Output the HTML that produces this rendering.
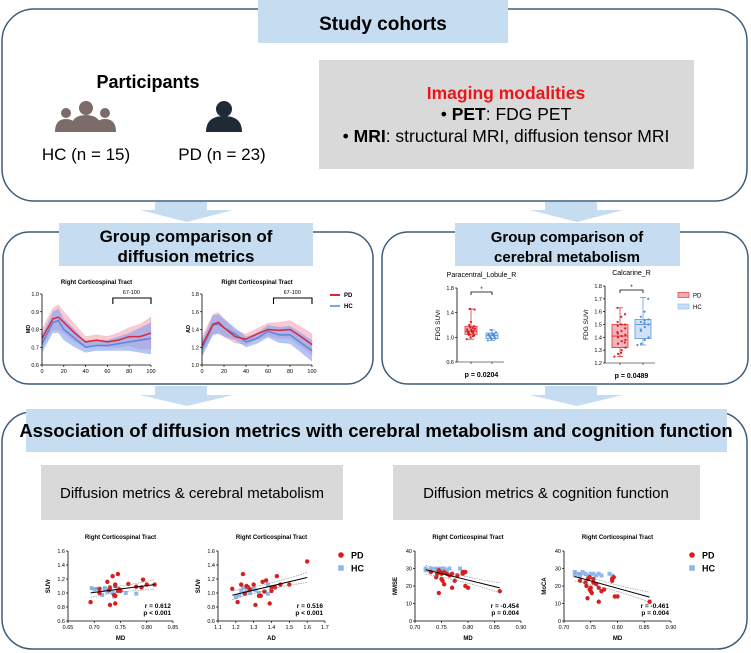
<!DOCTYPE html>
<html><head><meta charset="utf-8"><style>
body{margin:0;background:#fff;}
svg{display:block;font-family:"Liberation Sans",Arial,sans-serif;}
</style></head><body>
<svg id="s" width="751" height="653" viewBox="0 0 751 653">
<rect x="2" y="9" width="745" height="192" rx="32" fill="#fff" stroke="#3d5d78" stroke-width="1.5"/>
<rect x="258" y="0" width="250" height="43" fill="#c6dcf0"/>
<text x="383" y="30" text-anchor="middle" font-size="19" font-weight="bold">Study cohorts</text>
<text x="148" y="88" text-anchor="middle" font-size="18" font-weight="bold">Participants</text>
<g fill="#7b6c69">
<circle cx="66" cy="113" r="5"/><path d="M55 132 q0-13 11-13 q11 0 11 13z"/>
<circle cx="105" cy="113" r="5"/><path d="M94 132 q0-13 11-13 q11 0 11 13z"/>
<circle cx="86" cy="108" r="7"/><path d="M70 132 q0-17 16-17 q16 0 16 17z"/>
</g>
<g fill="#1f2a36">
<circle cx="224" cy="109" r="8"/><path d="M206 132 q0-16 18-16 q18 0 18 16z"/>
</g>
<text x="86" y="160" text-anchor="middle" font-size="17">HC (n = 15)</text>
<text x="222" y="160" text-anchor="middle" font-size="17">PD (n = 23)</text>
<rect x="319" y="60" width="375" height="109" fill="#d9d9d9"/>
<text x="506" y="99" text-anchor="middle" font-size="17.5" font-weight="bold" fill="#e8171b">Imaging modalities</text>
<text x="506" y="120" text-anchor="middle" font-size="17.5">•  <tspan font-weight="bold">PET</tspan>: FDG PET</text>
<text x="506" y="142" text-anchor="middle" font-size="17.5">•  <tspan font-weight="bold">MRI</tspan>: structural MRI, diffusion tensor MRI</text>
<g fill="#c6dcf0">
<path d="M155 202h52v8h26l-46 12l-47-12h15z"/>
<path d="M545 202h52v8h26l-46 12l-47-12h15z"/>
<path d="M155 386h52v9h26l-46 11l-47-11h15z"/>
<path d="M545 386h52v9h26l-46 11l-47-11h15z"/>
</g>
<rect x="3" y="232" width="370" height="152" rx="26" fill="#fff" stroke="#3d5d78" stroke-width="1.5"/>
<rect x="382" y="232" width="366" height="152" rx="26" fill="#fff" stroke="#3d5d78" stroke-width="1.5"/>
<rect x="59" y="223" width="254" height="43" fill="#c6dcf0"/>
<text x="186" y="242" text-anchor="middle" font-size="17" font-weight="bold">Group comparison of</text>
<text x="186" y="262" text-anchor="middle" font-size="17" font-weight="bold">diffusion metrics</text>
<rect x="455" y="223" width="225" height="43" fill="#c6dcf0"/>
<text x="567" y="242" text-anchor="middle" font-size="15" font-weight="bold">Group comparison of</text>
<text x="567" y="262" text-anchor="middle" font-size="15" font-weight="bold">cerebral metabolism</text>
<rect x="2" y="412" width="745" height="237" rx="30" fill="#fff" stroke="#3d5d78" stroke-width="1.5"/>
<rect x="26" y="409" width="701" height="43" fill="#c6dcf0"/>
<text x="376" y="437" text-anchor="middle" font-size="18.5" font-weight="bold">Association of diffusion metrics with cerebral metabolism and cognition function</text>
<rect x="41" y="465" width="302" height="55" fill="#d9d9d9"/>
<text x="192" y="498" text-anchor="middle" font-size="15">Diffusion metrics &amp; cerebral metabolism</text>
<rect x="393" y="465" width="307" height="55" fill="#d9d9d9"/>
<text x="546" y="498" text-anchor="middle" font-size="15">Diffusion metrics &amp; cognition function</text>
<g id="charts"></g>
</svg>
<script>
const profX=[0,10,15,20,30,40,50,60,70,80,90,100];
const mdPD=[0.75,0.86,0.87,0.84,0.78,0.73,0.74,0.73,0.74,0.76,0.76,0.78];
const mdHC=[0.72,0.84,0.85,0.80,0.75,0.70,0.71,0.71,0.72,0.73,0.74,0.75];
const mdBand=[0.05,0.06,0.07,0.06,0.05,0.03,0.03,0.03,0.04,0.05,0.07,0.09];
const adPD=[1.22,1.46,1.48,1.42,1.32,1.29,1.35,1.40,1.39,1.40,1.32,1.23];
const adHC=[1.18,1.45,1.46,1.42,1.35,1.26,1.30,1.38,1.34,1.34,1.25,1.16];
const adBand=[0.09,0.11,0.11,0.10,0.07,0.06,0.06,0.07,0.09,0.10,0.11,0.12];
const paraPD=[0.97,1.05,1.10,1.18,1.46];
const paraHC=[0.95,0.98,1.03,1.07,1.12];
const calcPD=[1.25,1.32,1.41,1.50,1.63];
const calcHC=[1.34,1.39,1.50,1.54,1.71];
const paraPDpts=[0.97,1.0,1.03,1.05,1.07,1.08,1.1,1.1,1.12,1.14,1.16,1.18,1.2,1.02,1.06,1.09,1.13,1.25,1.45,1.46,1.11,1.04,1.15];
const paraHCpts=[0.95,0.97,0.98,1.0,1.02,1.03,1.04,1.05,1.06,1.08,1.12,0.99,1.01,1.05,1.03];
const calcPDpts=[1.25,1.27,1.3,1.32,1.35,1.37,1.38,1.4,1.41,1.42,1.43,1.45,1.47,1.49,1.5,1.5,1.52,1.56,1.58,1.63,1.28,1.36,1.44];
const calcHCpts=[1.34,1.35,1.38,1.4,1.45,1.48,1.5,1.52,1.53,1.54,1.56,1.6,1.7,1.46,1.51];
const s1PDx=[0.693,0.71,0.71,0.725,0.73,0.73,0.735,0.74,0.74,0.745,0.745,0.74,0.74,0.75,0.765,0.78,0.79,0.793,0.8,0.815,0.728,0.738,0.748];
const s1PDy=[0.87,1.06,1.0,1.16,1.08,0.83,1.24,1.12,1.1,1.27,1.03,0.96,0.85,1.03,1.13,1.09,1.08,1.19,1.12,1.12,1.04,0.97,1.05];
const s1HCx=[0.695,0.705,0.71,0.715,0.72,0.725,0.73,0.735,0.738,0.745,0.76,0.78,0.72,0.735,0.7];
const s1HCy=[1.07,1.06,1.05,0.97,1.07,1.02,1.05,1.01,0.95,1.06,1.0,0.99,1.04,1.0,1.05];
const s2PDx=[1.18,1.21,1.23,1.24,1.26,1.27,1.28,1.3,1.31,1.33,1.34,1.35,1.36,1.37,1.39,1.4,1.4,1.42,1.43,1.45,1.5,1.6,1.25];
const s2PDy=[1.06,0.87,1.12,1.27,1.1,1.08,1.05,1.12,0.83,0.96,0.96,1.16,1.02,1.18,0.85,1.08,1.03,1.08,1.24,1.12,1.12,1.45,0.99];
const s2HCx=[1.2,1.2,1.23,1.24,1.25,1.28,1.3,1.33,1.33,1.38,1.38,1.27,1.22,1.26,1.31];
const s2HCy=[0.95,0.94,1.03,1.08,1.0,1.0,1.06,1.0,0.96,0.99,1.12,1.02,0.97,1.05,1.04];
const s3PDx=[0.73,0.74,0.745,0.745,0.75,0.75,0.752,0.755,0.755,0.76,0.77,0.77,0.775,0.78,0.79,0.79,0.795,0.795,0.8,0.86,0.748,0.742,0.765];
const s3PDy=[28,25,16,29,27,24,23,21,28,27,27,19,23,26,28,27,28,20,19,17,28,27,26];
const s3HCx=[0.72,0.725,0.73,0.735,0.74,0.745,0.75,0.755,0.76,0.765,0.785,0.72,0.74,0.75,0.73];
const s3HCy=[30,29,30,29,29,30,30,30,29,30,30,29,30,29,29];
const s4PDx=[0.73,0.74,0.742,0.744,0.745,0.748,0.75,0.75,0.752,0.755,0.755,0.765,0.765,0.77,0.775,0.79,0.79,0.793,0.795,0.8,0.86,0.748,0.76];
const s4PDy=[23,22,20,13,24,25,19,17,16,24,22,19,11,17,18,23,24,25,14,14,11,18,21];
const s4HCx=[0.72,0.725,0.73,0.735,0.74,0.745,0.75,0.755,0.76,0.765,0.77,0.785,0.79,0.72,0.73];
const s4HCy=[28,27,26,28,27,26,27,27,26,27,26,27,26,26,27];
const rLabels=["r = 0.612","r = 0.516","r = -0.454","r = -0.461"];
const pLabels=["p < 0.001","p < 0.001","p = 0.004","p = 0.004"];
const tickMD1=[0.65,0.70,0.75,0.80,0.85];
const tickAD=[1.1,1.2,1.3,1.4,1.5,1.6,1.7];
const tickMD2=[0.70,0.75,0.80,0.85,0.90];
const tickSUVr=[0.6,0.8,1.0,1.2,1.4,1.6];
const tickCog=[0,10,20,30,40];

const NS="http://www.w3.org/2000/svg";
const root=document.getElementById('charts');
const RED="#d61f1f",BLUE="#8fb9ea";
function el(tag,attrs,parent,txt){const e=document.createElementNS(NS,tag);for(const k in attrs)e.setAttribute(k,attrs[k]);if(txt!==undefined)e.textContent=txt;(parent||root).appendChild(e);return e;}
function scale(d0,d1,r0,r1){return v=>r0+(v-d0)/(d1-d0)*(r1-r0);}
function axes(g,X,Y,xt,yt,xd,yd,dec){
  const xa=el('line',{x1:X(xd[0]),x2:X(xd[1]),y1:Y(yd[0]),y2:Y(yd[0]),stroke:'#000','stroke-width':0.8},g);
  
  const ya=el('line',{x1:X(xd[0]),x2:X(xd[0]),y1:Y(yd[0]),y2:Y(yd[1]),stroke:'#000','stroke-width':0.8},g);
  
  xt.forEach(v=>{el('line',{x1:X(v),x2:X(v),y1:Y(yd[0]),y2:Y(yd[0])+2,stroke:'#000','stroke-width':0.7},g);
    const t=el('text',{x:X(v),y:Y(yd[0])+8,'font-size':5.5,'text-anchor':'middle'},g,v.toFixed(dec[0]));
    });
  yt.forEach(v=>{el('line',{x1:X(xd[0])-2,x2:X(xd[0]),y1:Y(v),y2:Y(v),stroke:'#000','stroke-width':0.7},g);
    const t=el('text',{x:X(xd[0])-3,y:Y(v)+2,'font-size':5.5,'text-anchor':'end'},g,v.toFixed(dec[1]));
    });
}
function legend(x,y,kind){
  const g=el('g',{});
  
  if(kind==='dot'){el('circle',{cx:x,cy:y,r:2.8,fill:RED},g);el('rect',{x:x-2.8,y:y+10.2,width:5.6,height:5.6,fill:BLUE},g);
    el('text',{x:x+10,y:y+3.5,'font-size':9,'font-weight':'bold'},g,'PD');el('text',{x:x+10,y:y+16.5,'font-size':9,'font-weight':'bold'},g,'HC');}
  else if(kind==='line'){el('line',{x1:x-5,x2:x+5,y1:y,y2:y,stroke:'#d8283c','stroke-width':2},g);el('line',{x1:x-5,x2:x+5,y1:y+11,y2:y+11,stroke:'#7aa6e6','stroke-width':2},g);
    el('text',{x:x+9,y:y+2.2,'font-size':6,'font-weight':'bold'},g,'PD');el('text',{x:x+9,y:y+13.2,'font-size':6,'font-weight':'bold'},g,'HC');}
  else{el('rect',{x:x-5,y:y-2.5,width:11,height:5,fill:'#f4aab4',stroke:RED,'stroke-width':0.6},g);el('rect',{x:x-5,y:y+9,width:11,height:5,fill:'#c8ddf5',stroke:BLUE,'stroke-width':0.6},g);
    el('text',{x:x+10,y:y+2.5,'font-size':6},g,'PD');el('text',{x:x+10,y:y+14,'font-size':6},g,'HC');}
}
function profile(name,x0,x1,yd,ytk,pd,hc,band,ylab,dec){
  const g=el('g',{});
  const X=scale(0,100,x0,x1),Y=scale(yd[0],yd[1],365,294);
  el('text',{x:(x0+x1)/2,y:284,'font-size':6,'font-weight':'bold','text-anchor':'middle'},g,'Right Corticospinal Tract');
  [[pd,'#f7b8c2','#d8283c'],[hc,'#7f9ff0','#5a86dc']].forEach(([s,fc,lc],k)=>{
    let up=profX.map((x,i)=>X(x)+','+Y(s[i]+band[i])).join(' ');
    let dn=profX.map((x,i)=>X(x)+','+Y(s[i]-band[i])).reverse().join(' ');
    const b=el('polygon',{points:up+' '+dn,fill:fc,'fill-opacity':k?0.6:0.75,stroke:k?'none':'#e57a8a','stroke-width':0.4,'stroke-dasharray':'1,1'},g);
    
  });
  [[hc,'#5a86dc'],[pd,'#d8283c']].forEach(([s,lc])=>{
    const l=el('polyline',{points:profX.map((x,i)=>X(x)+','+Y(s[i])).join(' '),fill:'none',stroke:lc,'stroke-width':1.5},g);
    
  });
  axes(g,X,Y,[0,20,40,60,80,100],ytk,[0,100],yd,[0,dec]);
  el('path',{d:`M${X(65)} 304v-6H${X(100)}v6`,fill:'none',stroke:'#000','stroke-width':1.1},g);
  el('text',{x:X(82),y:294,'font-size':5.5,'text-anchor':'middle'},g,'67-100');
  el('text',{x:x0-12,y:329,'font-size':5.5,'font-weight':'bold','text-anchor':'middle',transform:`rotate(-90 ${x0-12} 329)`},g,ylab);
}
profile('md-profile-chart',42,151,[0.6,1.0],[0.6,0.7,0.8,0.9,1.0],mdPD,mdHC,mdBand,'MD',1);
profile('ad-profile-chart',202,312,[1.0,1.8],[1.0,1.2,1.4,1.6,1.8],adPD,adHC,adBand,'AD',1);
legend(335,295,'line');
function boxchart(name,title,ax,c1,c2,bw,yd,ytk,pd,hc,pdpts,hcpts,ptxt,py,ty){
  const g=el('g',{});
  const Y=scale(yd[0],yd[1],yd[2],yd[3]);
  const mid=(c1+c2)/2;
  el('text',{x:mid,y:ty,'font-size':7,'text-anchor':'middle'},g,title);
  el('line',{x1:ax,x2:ax,y1:Y(yd[0]),y2:Y(yd[1]),stroke:'#000','stroke-width':0.8},g);
  el('line',{x1:ax,x2:c2+12,y1:Y(yd[0]),y2:Y(yd[0]),stroke:'#000','stroke-width':0.6},g);
  [c1,c2].forEach(c=>el('line',{x1:c,x2:c,y1:Y(yd[0]),y2:Y(yd[0])+2,stroke:'#000','stroke-width':0.6},g));
  ytk.forEach(v=>{el('line',{x1:ax-2,x2:ax,y1:Y(v),y2:Y(v),stroke:'#000','stroke-width':0.7},g);el('text',{x:ax-3,y:Y(v)+2,'font-size':5.5,'text-anchor':'end'},g,v.toFixed(1));});
  const ym=Y((yd[0]+yd[1])/2);
  el('text',{x:ax-17,y:ym,'font-size':6.5,'text-anchor':'middle',transform:`rotate(-90 ${ax-17} ${ym})`},g,'FDG SUVr');
  [[pd,c1,'#f4b3bb',RED,pdpts],[hc,c2,'#cfe2f7','#4f8fd8',hcpts]].forEach(([b,cx,f,s,pts])=>{
    const r=el('rect',{x:cx-bw/2,y:Y(b[3]),width:bw,height:Y(b[1])-Y(b[3]),fill:f,stroke:s,'stroke-width':0.7},g);
    
    el('line',{x1:cx-bw/2,x2:cx+bw/2,y1:Y(b[2]),y2:Y(b[2]),stroke:s,'stroke-width':0.8},g);
    el('line',{x1:cx,x2:cx,y1:Y(b[4]),y2:Y(b[3]),stroke:s,'stroke-width':0.7},g);
    el('line',{x1:cx,x2:cx,y1:Y(b[1]),y2:Y(b[0]),stroke:s,'stroke-width':0.7},g);
    el('line',{x1:cx-3,x2:cx+3,y1:Y(b[4]),y2:Y(b[4]),stroke:s,'stroke-width':0.7},g);
    el('line',{x1:cx-3,x2:cx+3,y1:Y(b[0]),y2:Y(b[0]),stroke:s,'stroke-width':0.7},g);
    pts.forEach((v,i)=>el('circle',{cx:cx-bw*0.35+((i*3.7)%(bw*0.7)),cy:Y(v),r:1.1,fill:s},g));
  });
  const by=Y(yd[1])+4;
  el('path',{d:`M${c1} ${by+3}v-3H${c2}v3`,fill:'none',stroke:'#000','stroke-width':0.8},g);
  el('text',{x:mid,y:by-1,'font-size':6,'text-anchor':'middle'},g,'*');
  el('text',{x:mid,y:py,'font-size':7,'font-weight':'bold','text-anchor':'middle'},g,ptxt);
}
boxchart('paracentral-box-chart','Paracentral_Lobule_R',457,471,492,12,[0.6,1.8,362,288],[0.6,1.0,1.4,1.8],paraPD,paraHC,paraPDpts,paraHCpts,'p = 0.0204',377,277);
boxchart('calcarine-box-chart','Calcarine_R',605,620,643,16,[1.2,1.8,363,286],[1.2,1.3,1.4,1.5,1.6,1.7,1.8],calcPD,calcHC,calcPDpts,calcHCpts,'p = 0.0489',378,275);
legend(683,295,'box');
function scatter(name,x0,x1,xd,yd,xt,yt,pdx,pdy,hcx,hcy,xl,yl,k,dec){
  const g=el('g',{});
  const X=scale(xd[0],xd[1],x0,x1),Y=scale(yd[0],yd[1],621,551);
  el('text',{x:(x0+x1)/2,y:539,'font-size':6,'font-weight':'bold','text-anchor':'middle'},g,'Right Corticospinal Tract');
  axes(g,X,Y,xt,yt,xd,yd,dec);
  const ax=pdx.concat(hcx),ay=pdy.concat(hcy),n=ax.length;
  const mx=ax.reduce((a,b)=>a+b)/n,my=ay.reduce((a,b)=>a+b)/n;
  let sxy=0,sxx=0;ax.forEach((x,i)=>{sxy+=(x-mx)*(ay[i]-my);sxx+=(x-mx)*(x-mx);});
  const b=sxy/sxx,a=my-b*mx,lo=Math.min(...ax),hi=Math.max(...ax),ci=(yd[1]-yd[0])*0.04;
  hcx.forEach((x,i)=>{const r=el('rect',{x:X(x)-2,y:Y(hcy[i])-2,width:4,height:4,fill:BLUE},g);});
  pdx.forEach((x,i)=>{const c=el('circle',{cx:X(x),cy:Y(pdy[i]),r:2.2,fill:RED},g);});
  const f=x=>a+b*x;
  [1,-1].forEach(sg=>el('path',{d:`M${X(lo)} ${Y(f(lo)+sg*ci*1.6)}Q${X((lo+hi)/2)} ${Y(f((lo+hi)/2)+sg*ci*0.5)} ${X(hi)} ${Y(f(hi)+sg*ci*1.8)}`,fill:'none',stroke:'#888','stroke-width':0.6,'stroke-dasharray':'1.5,1'},g));
  const rl=el('line',{x1:X(lo),y1:Y(f(lo)),x2:X(hi),y2:Y(f(hi)),stroke:'#000','stroke-width':1},g);
  
  el('text',{x:x1-2,y:608,'font-size':6.5,'font-weight':'bold','text-anchor':'end'},g,rLabels[k]);
  el('text',{x:x1-2,y:615,'font-size':6.5,'font-weight':'bold','text-anchor':'end'},g,pLabels[k]);
  el('text',{x:(x0+x1)/2,y:640,'font-size':6,'font-weight':'bold','text-anchor':'middle'},g,xl);
  el('text',{x:x0-18,y:586,'font-size':6,'font-weight':'bold','text-anchor':'middle',transform:`rotate(-90 ${x0-18} 586)`},g,yl);
}
scatter('md-suvr-scatter',68,173,[0.65,0.85],[0.6,1.6],tickMD1,tickSUVr,s1PDx,s1PDy,s1HCx,s1HCy,'MD','SUVr',0,[2,1]);
scatter('ad-suvr-scatter',218,325,[1.1,1.7],[0.6,1.6],tickAD,tickSUVr,s2PDx,s2PDy,s2HCx,s2HCy,'AD','SUVr',1,[1,1]);
scatter('md-mmse-scatter',415,521,[0.70,0.90],[0,40],tickMD2,tickCog,s3PDx,s3PDy,s3HCx,s3HCy,'MD','MMSE',2,[2,0]);
scatter('md-moca-scatter',564,671,[0.70,0.90],[0,40],tickMD2,tickCog,s4PDx,s4PDy,s4HCx,s4HCy,'MD','MoCA',3,[2,0]);
legend(341,555,'dot');
legend(692,555,'dot');
</script>
</body></html>
